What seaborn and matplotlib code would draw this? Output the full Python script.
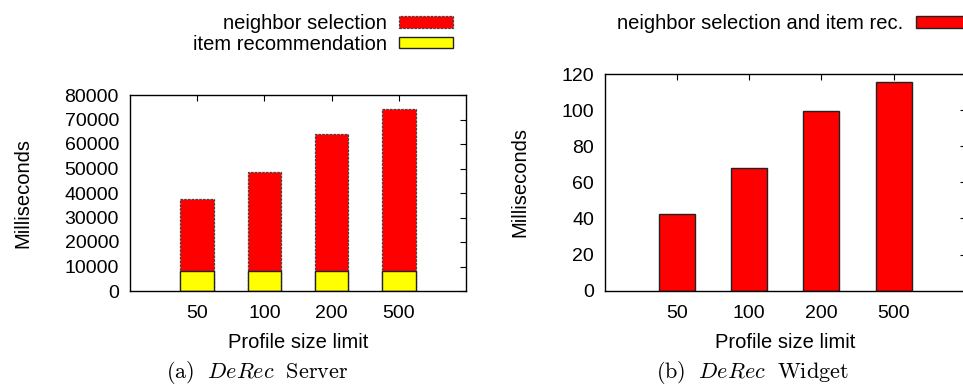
import matplotlib
matplotlib.use("Agg")
import matplotlib.pyplot as plt
from matplotlib.patches import Patch
import seaborn as sns

profile_limits = ["50", "100", "200", "500"]
item_rec = [8000, 8200, 8000, 8200]
neighbor_sel = [29400, 40200, 56200, 66200]
widget_ms = [42.3, 67.8, 99.3, 115.4]

server_total = [a + b for a, b in zip(item_rec, neighbor_sel)]

sns.set_style("white")
plt.rcParams["font.family"] = ["Liberation Sans", "DejaVu Sans"]
plt.rcParams["font.size"] = 14
plt.rcParams["mathtext.fontset"] = "cm"
plt.rcParams["text.color"] = "black"
plt.rcParams["axes.labelcolor"] = "black"
plt.rcParams["xtick.color"] = "black"
plt.rcParams["ytick.color"] = "black"

fig = plt.figure(figsize=(9.63, 3.89), dpi=100)
ax1 = fig.add_axes([130 / 963, 1 - 291 / 389, 336 / 963, 196 / 389])
ax2 = fig.add_axes([605 / 963, 1 - 290.7 / 389, 360.7 / 963, 216.7 / 389])

# server: red total first, yellow part drawn over it
sns.barplot(x=profile_limits, y=server_total, color="#ff0000", saturation=1,
            width=0.5, edgecolor="#444444", linewidth=0.9,
            linestyle=(0, (2, 1)), ax=ax1)
sns.barplot(x=profile_limits, y=item_rec, color="#ffff00", saturation=1,
            width=0.5, edgecolor="#222222", linewidth=1.0, ax=ax1)
ax1.set_ylim(0, 80000)
ax1.set_yticks(range(0, 80001, 10000))

sns.barplot(x=profile_limits, y=widget_ms, color="#ff0000", saturation=1,
            width=0.5, edgecolor="#222222", linewidth=1.0, ax=ax2)
ax2.set_ylim(0, 120)
ax2.set_yticks(range(0, 121, 20))

for ax in (ax1, ax2):
    ax.set_xlim(-1, 4)
    ax.set_xlabel("Profile size limit", fontsize=14.5, labelpad=8)
    ax.set_ylabel("Milliseconds", fontsize=14.5, labelpad=23)
    ax.tick_params(direction="in", top=True, right=True, length=4,
                   width=0.8, color="black", labelsize=14, pad=8)
    ax.tick_params(axis="x", pad=10)
    for s in ax.spines.values():
        s.set_visible(True)
        s.set_color("black")
        s.set_linewidth(1.0)

h1 = [Patch(facecolor="#ff0000", edgecolor="#444444", linestyle=(0, (2, 1)), linewidth=0.9),
      Patch(facecolor="#ffff00", edgecolor="#222222", linewidth=1.0)]
fig.legend(h1, ["neighbor selection", "item recommendation"],
           loc="upper right", bbox_to_anchor=(453 / 963, 1 - 14 / 389),
           frameon=False, markerfirst=False, handlelength=2.7, handleheight=0.5,
           handletextpad=0.6, labelspacing=0.08, borderpad=0, borderaxespad=0,
           fontsize=14.5)

h2 = [Patch(facecolor="#ff0000", edgecolor="#222222", linewidth=1.0)]
fig.legend(h2, ["neighbor selection and item rec."],
           loc="upper right", bbox_to_anchor=(970 / 963, 1 - 14 / 389),
           frameon=False, markerfirst=False, handlelength=2.7, handleheight=0.5,
           handletextpad=0.6, borderpad=0, borderaxespad=0, fontsize=14.5)

fig.text(257 / 963, 1 - 373 / 389, r"$\mathrm{(a)}\ \ \mathit{DeRec}\ \ \mathrm{Server}$",
         ha="center", va="center", fontsize=16)
fig.text(752 / 963, 1 - 373 / 389, r"$\mathrm{(b)}\ \ \mathit{DeRec}\ \ \mathrm{Widget}$",
         ha="center", va="center", fontsize=16)

fig.savefig("out.png", dpi=100)
